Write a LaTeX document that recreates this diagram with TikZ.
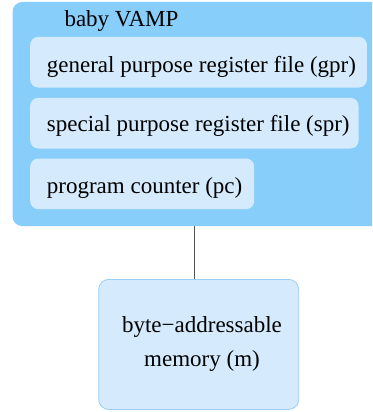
\documentclass[tikz,border=0pt]{standalone}
\usepackage{fontspec}
\setmainfont{Liberation Serif}
\definecolor{cpublue}{HTML}{87CEFA}
\definecolor{unitblue}{HTML}{D5EBFD}
\definecolor{memedge}{HTML}{99CDF2}
\definecolor{linkgray}{HTML}{555555}
\begin{document}
\begin{tikzpicture}[x=1pt, y=-1pt,
  font=\fontsize{23}{33.5}\selectfont,
  cpubox/.style={fill=cpublue, rounded corners=10pt, anchor=north west, inner sep=0pt},
  unitbox/.style={fill=unitblue, rounded corners=8pt, anchor=north west, inner sep=0pt, minimum height=50.6pt},
  membox/.style={fill=unitblue, draw=memedge, line width=0.8pt, rounded corners=10pt, anchor=north west, inner sep=0pt},
  caption/.style={anchor=base west, inner sep=0pt},
  link/.style={draw=linkgray, line width=1pt}]
  \useasboundingbox (0,0) rectangle (372,412);
  \clip (0,0) rectangle (372,412);

  % processor block with its three register units
  \node[cpubox, minimum width=390pt, minimum height=224.3pt] (vamp) at (12.3,1.7) {};
  \node[caption] (title) at (64.3,26.7) {baby VAMP};

  \node[unitbox, minimum width=336.7pt] (gpr) at (30,36.7) {};
  \node[caption] (gprtext) at (46.7,72.5) {general purpose register file (gpr)};

  \node[unitbox, minimum width=328.3pt] (spr) at (30,97.7) {};
  \node[caption] (sprtext) at (46.7,131.5) {special purpose register file (spr)};

  \node[unitbox, minimum width=224pt] (pc) at (30,158.3) {};
  \node[caption] (pctext) at (46.7,193) {program counter (pc)};

  % memory block; the base anchor of the two-line label sits on its last line
  \node[membox, minimum width=200pt, minimum height=130pt] (mem) at (98.3,279) {};
  \node[anchor=base, align=center, inner sep=0pt] (memtext) at (202,366)
    {byte−addressable\\memory (m)};

  % connection between processor and memory
  \draw[link] ([xshift=-4pt]mem.north) -- ([xshift=-4pt]mem.north |- vamp.south);
\end{tikzpicture}
\end{document}
